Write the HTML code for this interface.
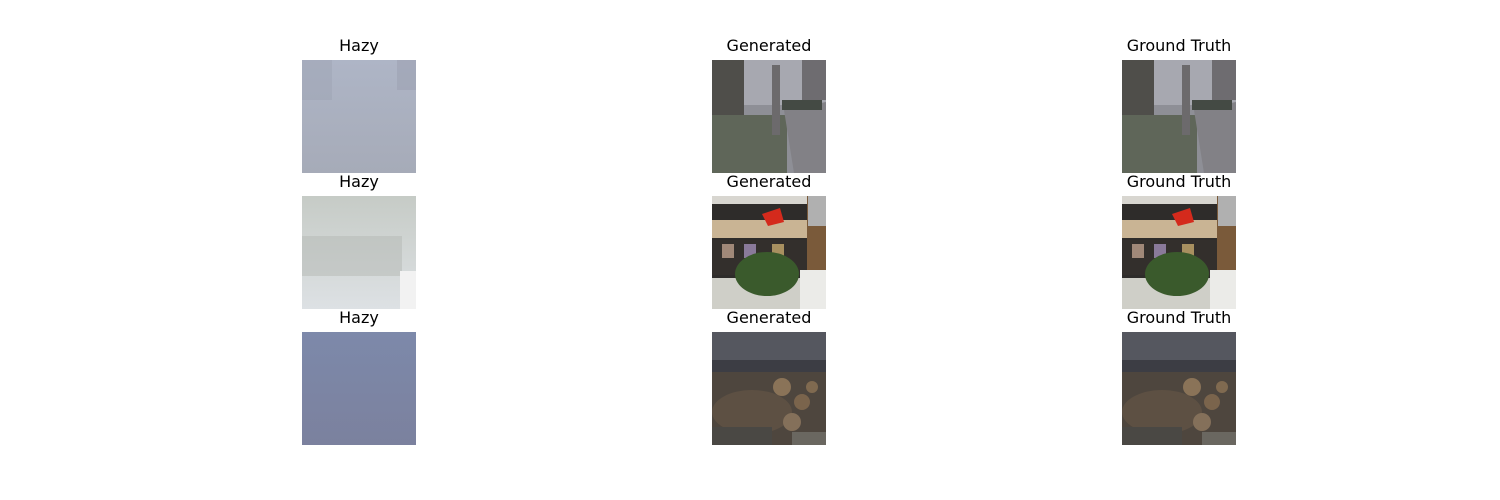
<!DOCTYPE html>
<html><head><meta charset="utf-8"><style>
body{margin:0;width:1500px;height:500px;background:#fff;position:relative;overflow:hidden;font-family:"DejaVu Sans","Liberation Sans",sans-serif}
.t{position:absolute;width:200px;text-align:center;font-size:16px;color:#000}
.p{position:absolute;width:114px;height:113px}
</style></head><body>
<div id="root"></div>
<script>
const cols=[302,712,1122];
const rows=[60,196,332];
const titles=['Hazy','Generated','Ground Truth'];
const hazy=[
'<defs><linearGradient id="h1" x1="0" y1="0" x2="0" y2="1"><stop offset="0" stop-color="#aeb5c6"/><stop offset="1" stop-color="#a6abb8"/></linearGradient></defs><rect width="114" height="113" fill="url(#h1)"/><rect x="0" y="0" width="30" height="40" fill="#9ea4b4" opacity=".5"/><rect x="95" y="0" width="19" height="30" fill="#9ca2b2" opacity=".6"/>',
'<defs><linearGradient id="h2" x1="0" y1="0" x2="0" y2="1"><stop offset="0" stop-color="#c6cbc6"/><stop offset="1" stop-color="#dde1e4"/></linearGradient></defs><rect width="114" height="113" fill="url(#h2)"/><rect x="0" y="40" width="100" height="40" fill="#b4b8b4" opacity=".5"/><rect x="98" y="75" width="16" height="38" fill="#f2f2f2"/>',
'<defs><linearGradient id="h3" x1="0" y1="0" x2="0" y2="1"><stop offset="0" stop-color="#7d89aa"/><stop offset="1" stop-color="#7b819e"/></linearGradient></defs><rect width="114" height="113" fill="url(#h3)"/>'
];
const scenes=[
'<rect width="114" height="113" fill="#8e8f96"/><rect x="0" y="0" width="114" height="45" fill="#a7a8b0"/><rect x="0" y="0" width="32" height="60" fill="#4f4e4a"/><rect x="90" y="0" width="24" height="40" fill="#6e6c70"/><rect x="0" y="55" width="75" height="58" fill="#5f6659"/><polygon points="72,50 114,42 114,113 82,113" fill="#828186"/><rect x="60" y="5" width="8" height="70" fill="#6c6a6c"/><rect x="70" y="40" width="40" height="10" fill="#444a44"/>',
'<rect width="114" height="113" fill="#2e2c2a"/><rect x="0" y="0" width="114" height="8" fill="#d8d6d0"/><rect x="0" y="24" width="95" height="18" fill="#c9b494"/><polygon points="50,18 68,12 72,26 56,30" fill="#d42a1c"/><rect x="0" y="44" width="95" height="35" fill="#332f2c"/><rect x="10" y="48" width="12" height="14" fill="#a08878"/><rect x="32" y="48" width="12" height="14" fill="#8a7a9a"/><rect x="60" y="48" width="12" height="14" fill="#a89060"/><rect x="0" y="82" width="114" height="31" fill="#cfcfc8"/><ellipse cx="55" cy="78" rx="32" ry="22" fill="#3a5a2c"/><rect x="95" y="0" width="19" height="75" fill="#7a5a3a"/><rect x="96" y="0" width="18" height="30" fill="#b0b0b0"/><rect x="88" y="74" width="26" height="39" fill="#ebebe8"/>',
'<rect width="114" height="113" fill="#3c3d44"/><rect x="0" y="0" width="114" height="28" fill="#55575f"/><rect x="0" y="40" width="114" height="73" fill="#4e463e"/><ellipse cx="40" cy="80" rx="40" ry="22" fill="#5d5043"/><circle cx="70" cy="55" r="9" fill="#8a7358"/><circle cx="90" cy="70" r="8" fill="#7a644c"/><circle cx="80" cy="90" r="9" fill="#84705a"/><circle cx="100" cy="55" r="6" fill="#806a50"/><rect x="0" y="95" width="60" height="18" fill="#4a4844"/><rect x="80" y="100" width="34" height="13" fill="#6a6760"/>'
];
const root=document.getElementById('root');
rows.forEach((y,r)=>{cols.forEach((x,c)=>{
 const t=document.createElement('div');t.className='t';
 
 
 t.style.left=(x+57-100)+'px';t.style.top=(y-24)+'px';t.textContent=titles[c];root.appendChild(t);
 const d=document.createElement('div');d.className='p';
 
 
 d.style.left=x+'px';d.style.top=y+'px';
 const inner=c===0?hazy[r]:scenes[r];
 d.innerHTML='<svg width="114" height="113" viewBox="0 0 114 113">'+inner.replace(/id="h(\d)"/,'id="h$1_'+c+'"').replace(/url\(#h(\d)\)/,'url(#h$1_'+c+')')+'</svg>';
 root.appendChild(d);
});});
</script>
</body></html>
